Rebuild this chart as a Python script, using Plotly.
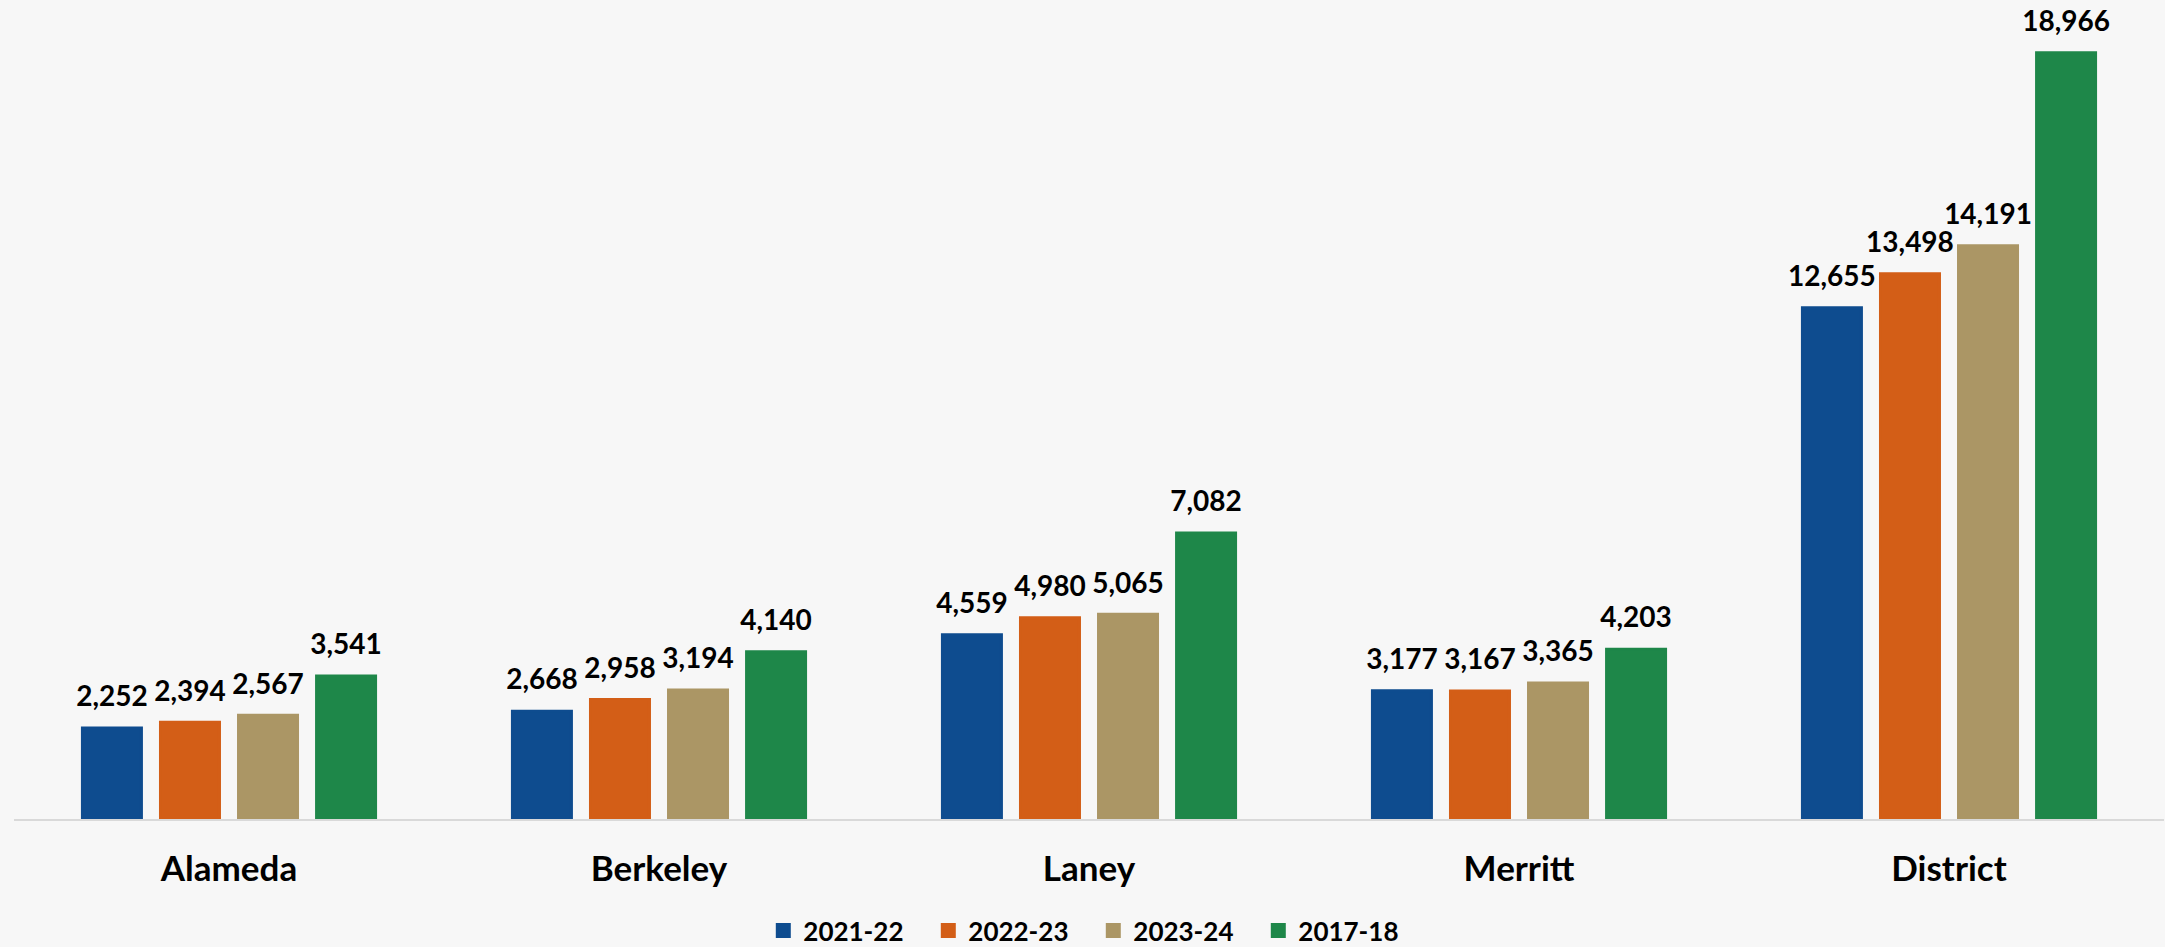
import plotly.graph_objects as go

colleges = ["Alameda", "Berkeley", "Laney", "Merritt", "District"]
series_names = ["2021-22", "2022-23", "2023-24", "2017-18"]
values_2021_22 = [2252, 2668, 4559, 3177, 12655]
values_2022_23 = [2394, 2958, 4980, 3167, 13498]
values_2023_24 = [2567, 3194, 5065, 3365, 14191]
values_2017_18 = [3541, 4140, 7082, 4203, 18966]
series_colors = ["#0e4c8f", "#d35e17", "#ab9665", "#1e8749"]

FONT = "Lato"
BG = "#f7f7f7"

fig = go.Figure()
all_values = [values_2021_22, values_2022_23, values_2023_24, values_2017_18]

for name, vals, color in zip(series_names, all_values, series_colors):
    fig.add_trace(
        go.Bar(
            x=colleges,
            y=vals,
            name=name,
            # outline in the same colour also makes the legend square a bit larger
            marker={"color": color, "line": {"width": 3, "color": color}},
            hoverinfo="x+y+name",
        )
    )

# value labels as grouped text traces, so they sit a bit higher than bar text would
for name, vals in zip(series_names, all_values):
    fig.add_trace(
        go.Scatter(
            x=colleges,
            y=vals,
            mode="markers+text",
            text=[f"{v:,}" for v in vals],
            textposition="top center",
            textfont={"family": FONT, "size": 28, "color": "#000000", "weight": "bold"},
            marker={"size": 22, "color": "rgba(0,0,0,0)"},
            showlegend=False,
            hoverinfo="skip",
            cliponaxis=False,
        )
    )

fig.update_layout(
    width=2165,
    height=947,
    paper_bgcolor=BG,
    plot_bgcolor=BG,
    barmode="group",
    bargap=0.274,
    bargroupgap=0.244,
    scattermode="group",
    scattergap=0.274,
    margin={"l": 14, "r": 1, "t": 11, "b": 128, "autoexpand": False},
    font={"family": FONT, "color": "#000000"},
    showlegend=True,
    legend={
        "orientation": "h",
        "x": 0.502,
        "xanchor": "center",
        "y": -0.138,
        "yanchor": "middle",
        "font": {"family": FONT, "size": 26, "color": "#000000", "weight": "bold"},
        "bgcolor": "rgba(0,0,0,0)",
        "itemwidth": 30,
        "entrywidth": 120,
        "traceorder": "normal",
    },
    xaxis={
        "showgrid": False,
        "zeroline": False,
        "showline": True,
        "linecolor": "#d9d9d9",
        "linewidth": 2,
        "ticks": "outside",
        "ticklen": 18,
        "tickcolor": BG,
        "tickfont": {"family": FONT, "size": 35, "color": "#000000", "weight": "bold"},
    },
    yaxis={
        "visible": False,
        "range": [0, 20000],
        "showgrid": False,
        "zeroline": False,
    },
)

fig.write_html(
    "out.html",
    config={"displayModeBar": False},
    post_script="document.body.style.margin='0';document.body.style.background='#f7f7f7';",
)
